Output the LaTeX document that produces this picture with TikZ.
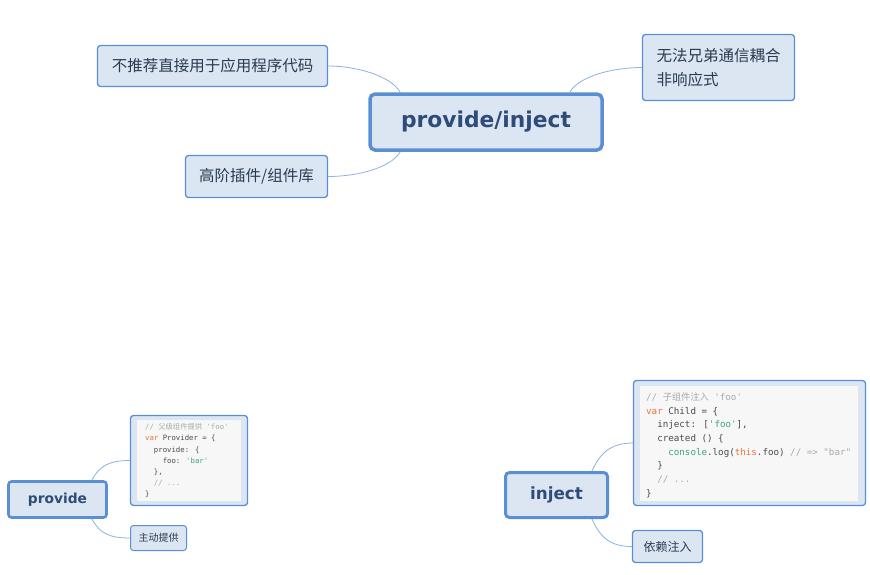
\documentclass[tikz,border=0pt]{standalone}
\usepackage{fontspec}
\setmainfont{DejaVu Sans}
\newfontfamily\cjk{Noto Sans CJK SC}
\newfontfamily\codefont{DejaVu Sans Mono}[Ligatures=TeXOff]
\usetikzlibrary{calc}
\definecolor{boxfill}{HTML}{DCE6F2}
\definecolor{boxline}{HTML}{5B8FD4}
\definecolor{linkcol}{HTML}{8DB3E2}
\definecolor{titlecol}{HTML}{2E4C7A}
\definecolor{textcol}{HTML}{2B3A50}
\definecolor{codebg}{HTML}{F7F7F7}
\definecolor{cmtcol}{HTML}{A9A9A9}
\definecolor{kwcol}{HTML}{E8743B}
\definecolor{strcol}{HTML}{3AA57F}
\definecolor{codetext}{HTML}{4A4A4A}
\newcommand\ccmt[1]{\textcolor{cmtcol}{#1}}
\newcommand\ckw[1]{\textcolor{kwcol}{#1}}
\newcommand\cstr[1]{\textcolor{strcol}{#1}}
\tikzset{
  topicbox/.style={draw=boxline, fill=boxfill, rounded corners=3pt, line width=1.3pt, inner sep=0pt, text=textcol},
  mainbox/.style={draw=boxline, fill=boxfill, rounded corners=5pt, inner sep=0pt, text=titlecol},
  codebox/.style={draw=boxline, fill=boxfill, rounded corners=3pt, line width=1.3pt, inner sep=0pt},
  codein/.style={fill=codebg, inner sep=0pt},
  codetxt/.style={anchor=north west, inner sep=0pt, align=left, text=codetext},
  link/.style={draw=linkcol, line width=0.8pt}
}
\begin{document}
\begin{tikzpicture}[x=1pt,y=-1pt]
\useasboundingbox[fill=white] (0,0) rectangle (870,574);

% central
\node[mainbox, line width=3.5pt, minimum width=232pt, minimum height=56pt,
  font=\bfseries\fontsize{21.8}{26}\selectfont] (c) at (486,122) {provide/inject};

\node[topicbox, minimum width=230pt, minimum height=41pt, font=\cjk\fontsize{15.5}{20}\selectfont]
  (tl) at (212.5,66) {不推荐直接用于应用程序代码};
\node[topicbox, minimum width=142pt, minimum height=42pt, font=\cjk\fontsize{15.5}{20}\selectfont]
  (bl) at (256.5,176.5) {高阶插件/组件库};
\node[topicbox, minimum width=152pt, minimum height=66pt, align=left, font=\cjk\fontsize{15.5}{24}\selectfont]
  (tr) at (718.5,67.5) {无法兄弟通信耦合\\非响应式};

\draw[link] ([xshift=32pt]c.north west) .. controls +(-10,-17) and +(27,0) .. (tl.east);
\draw[link] ([xshift=32pt]c.south west) .. controls +(-10,17) and +(27,0) .. (bl.east);
\draw[link] ([xshift=-34pt]c.north east) .. controls +(10,-17) and +(-27,0) .. (tr.west);

% provide
\node[mainbox, line width=2.6pt, rounded corners=3pt, minimum width=98pt, minimum height=36pt,
  font=\bfseries\fontsize{13.8}{17}\selectfont] (p) at (57.5,499.5) {provide};
\node[codebox, minimum width=117pt, minimum height=90pt] (pc) at (189,460.5) {};
\node[codein, minimum width=104pt, minimum height=81pt] (pcin) at (189,460.5) {};
\node[codetxt, font=\codefont\fontsize{7.3}{11.1}\selectfont] (pct) at (145,423.5) {%
\ccmt{// {\cjk 父级组件提供} 'foo'}\\
\ckw{var} Provider = \{\\
\phantom{xx}provide: \{\\
\phantom{xxxx}foo: \cstr{'bar'}\\
\phantom{xx}\},\\
\phantom{xx}\ccmt{// ...}\\
\}};
\node[topicbox, line width=1pt, minimum width=56pt, minimum height=25pt, font=\cjk\fontsize{10}{12}\selectfont]
  (pa) at (158.5,538) {主动提供};
\draw[link] ([xshift=-16pt]p.north east) .. controls +(8,-15) and +(-20,0) .. (pc.west);
\draw[link] ([xshift=-16pt]p.south east) .. controls +(8,15) and +(-20,0) .. (pa.west);

% inject
\node[mainbox, line width=3pt, rounded corners=4pt, minimum width=102pt, minimum height=45pt,
  font=\bfseries\fontsize{16.8}{20}\selectfont] (i) at (556.5,495) {inject};
\node[codebox, minimum width=232pt, minimum height=125pt] (ic) at (749.5,443) {};
\node[codein, minimum width=218pt, minimum height=115pt] (icin) at (749,443.5) {};
\node[codetxt, font=\codefont\fontsize{9.2}{13.7}\selectfont] (ict) at (646,392.5) {%
\ccmt{// {\cjk 子组件注入} 'foo'}\\
\ckw{var} Child = \{\\
\phantom{xx}inject: [\cstr{'foo'}],\\
\phantom{xx}created () \{\\
\phantom{xxxx}\cstr{console}.log(\ckw{this}.foo) \ccmt{// => "bar"}\\
\phantom{xx}\}\\
\phantom{xx}\ccmt{// ...}\\
\}};
\node[topicbox, minimum width=70pt, minimum height=32pt, font=\cjk\fontsize{12}{14}\selectfont]
  (ia) at (667.5,546.5) {依赖注入};
\draw[link] ([xshift=-17pt]i.north east) .. controls +(8,-18) and +(-22,0) .. (ic.west);
\draw[link] ([xshift=-17pt]i.south east) .. controls +(8,18) and +(-22,0) .. (ia.west);
\end{tikzpicture}
\end{document}
